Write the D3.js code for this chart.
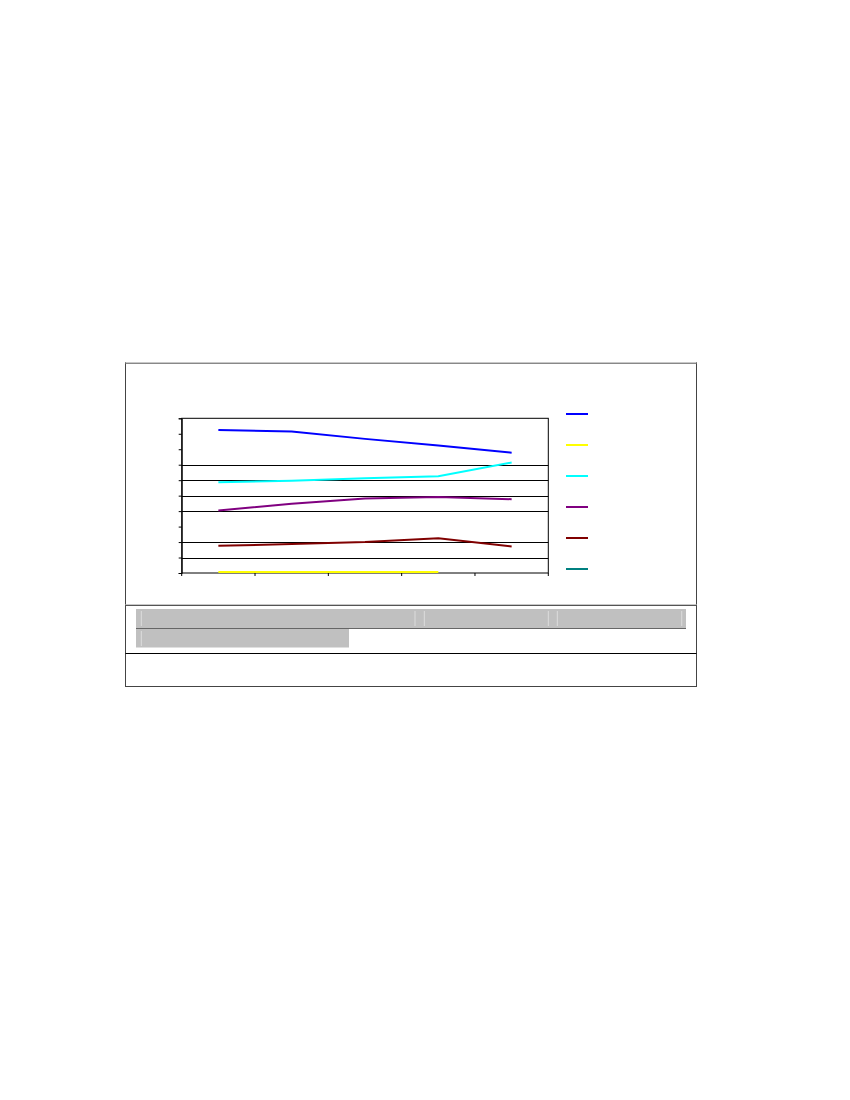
<!DOCTYPE html>
<html>
<head>
<meta charset="utf-8">
<title>Line chart</title>
<script src="https://cdn.jsdelivr.net/npm/d3@7"></script>
<style>
  body { margin: 0; background: #fff; }
</style>
</head>
<body>
<div id="chart"></div>
<script>
// categories along x (no labels shown in the picture)
var categories = ["c1", "c2", "c3", "c4", "c5"]
// y ticks and the rows that carry a gridline
var yTicks = [0, 1, 2, 3, 4, 5, 6, 7, 8, 9, 10]
var gridValues = [1, 2, 4, 5, 6, 7]

// series values
var blueValues   = [9.25, 9.14, 8.67, 8.24, 7.78]
var yellowValues = [0.06, 0.06, 0.06, 0.06, null]
var cyanValues   = [5.87, 5.96, 6.13, 6.26, 7.14]
var purpleValues = [4.04, 4.47, 4.82, 4.92, 4.77]
var maroonValues = [1.76, 1.87, 2.00, 2.24, 1.72]
var tealValues   = [null, null, null, null, null]

var seriesNames = ["blue", "yellow", "cyan", "purple", "maroon", "teal"]
var seriesColors = ["#0000ff", "#ffff00", "#00ffff", "#800080", "#800000", "#008080"]
var seriesValues = [blueValues, yellowValues, cyanValues, purpleValues, maroonValues, tealValues]

var width = 850, height = 1100
var svg = d3.select("#chart").append("svg")
  .attr("width", width)
  .attr("height", height)

// outer frame of the chart object
var box = {left: 125.5, top: 362.5, right: 696.5, bottom: 686.5}
svg.append("rect")
  .attr("x", box.left).attr("y", box.top)
  .attr("width", box.right - box.left).attr("height", box.bottom - box.top)
  .attr("fill", "#fff")
  .attr("stroke", "#444").attr("stroke-width", 1)
svg.append("line")
  .attr("x1", box.left).attr("x2", box.right)
  .attr("y1", box.top).attr("y2", box.top)
  .attr("stroke", "#c8c8c8").attr("stroke-width", 1)
svg.append("line")
  .attr("x1", box.left).attr("x2", box.right)
  .attr("y1", box.top + 1).attr("y2", box.top + 1)
  .attr("stroke", "#888").attr("stroke-width", 1)

// plot area
var plot = {left: 181.7, right: 548.3, top: 418.3, bottom: 573}

var x = d3.scalePoint()
  .domain(categories)
  .range([plot.left, plot.right])
  .padding(0.5)
var xBand = d3.scaleBand()
  .domain(categories)
  .range([plot.left, plot.right])
var y = d3.scaleLinear()
  .domain([0, 10])
  .range([plot.bottom, plot.top])

var g = svg.append("g")

// gridlines
g.selectAll(".grid")
  .data(gridValues)
  .enter().append("line")
    .attr("class", "grid")
    .attr("x1", plot.left).attr("x2", plot.right)
    .attr("y1", function(d){ return Math.round(y(d)) + 0.5 })
    .attr("y2", function(d){ return Math.round(y(d)) + 0.5 })
    .attr("stroke", "#000").attr("stroke-width", 1)

// plot frame
g.append("rect")
  .attr("x", plot.left).attr("y", plot.top)
  .attr("width", plot.right - plot.left).attr("height", plot.bottom - plot.top)
  .attr("fill", "none").attr("stroke", "#000").attr("stroke-width", 1)

// y axis ticks, no labels
var yAxis = d3.axisLeft(y).tickValues(yTicks).tickSize(3).tickFormat("")
g.append("g")
  .attr("transform", "translate(" + plot.left + ",0)")
  .call(yAxis)
  .call(function(a){ a.select(".domain").attr("stroke", "#000") })

// x axis ticks sit on category boundaries
var xBounds = categories.map(function(c){ return xBand(c) }).concat([plot.right])
g.selectAll(".xtick")
  .data(xBounds)
  .enter().append("line")
    .attr("class", "xtick")
    .attr("x1", function(d){ return d }).attr("x2", function(d){ return d })
    .attr("y1", plot.bottom).attr("y2", plot.bottom + 3)
    .attr("stroke", "#000")

// series lines
var line = d3.line()
  .defined(function(d){ return d != null })
  .x(function(d, i){ return x(categories[i]) })
  .y(function(d){ return y(d) })

seriesValues.forEach(function(vals, i){
  g.append("path")
    .datum(vals)
    .attr("fill", "none")
    .attr("stroke", seriesColors[i])
    .attr("stroke-width", 2)
    .attr("d", line)
})

// legend: swatches only
var legendY = d3.scalePoint()
  .domain(seriesNames)
  .range([414, 569])
var legend = svg.append("g")
legend.selectAll("line")
  .data(seriesNames)
  .enter().append("line")
    .attr("x1", 566).attr("x2", 588)
    .attr("y1", function(d){ return legendY(d) })
    .attr("y2", function(d){ return legendY(d) })
    .attr("stroke", function(d, i){ return seriesColors[i] })
    .attr("stroke-width", 2)

// data table area below the chart
svg.append("line")
  .attr("x1", box.left).attr("x2", box.right)
  .attr("y1", 604.5).attr("y2", 604.5)
  .attr("stroke", "#c8c8c8").attr("stroke-width", 1)
svg.append("line")
  .attr("x1", box.left).attr("x2", box.right)
  .attr("y1", 605.5).attr("y2", 605.5)
  .attr("stroke", "#555").attr("stroke-width", 1)
svg.append("line")
  .attr("x1", box.left).attr("x2", box.right)
  .attr("y1", 653.5).attr("y2", 653.5)
  .attr("stroke", "#000").attr("stroke-width", 1)

svg.append("rect")
  .attr("x", 136).attr("y", 609)
  .attr("width", 550).attr("height", 19.5)
  .attr("fill", "#c0c0c0")
svg.append("rect")
  .attr("x", 136).attr("y", 629)
  .attr("width", 213).attr("height", 18.5)
  .attr("fill", "#c0c0c0")
svg.append("line")
  .attr("x1", 136).attr("x2", 686)
  .attr("y1", 628.5).attr("y2", 628.5)
  .attr("stroke", "#666").attr("stroke-width", 1)

// faint cell separators in the grey header
var sepX = [141.3, 415, 424.3, 548.3, 557.3, 681.7]
svg.selectAll(".sep")
  .data(sepX)
  .enter().append("line")
    .attr("class", "sep")
    .attr("x1", function(d){ return d }).attr("x2", function(d){ return d })
    .attr("y1", 611).attr("y2", 626)
    .attr("stroke", "#dcdcdc").attr("stroke-width", 1)
svg.append("line")
  .attr("x1", 141.3).attr("x2", 141.3)
  .attr("y1", 631).attr("y2", 646)
  .attr("stroke", "#dcdcdc").attr("stroke-width", 1)
</script>
</body>
</html>
